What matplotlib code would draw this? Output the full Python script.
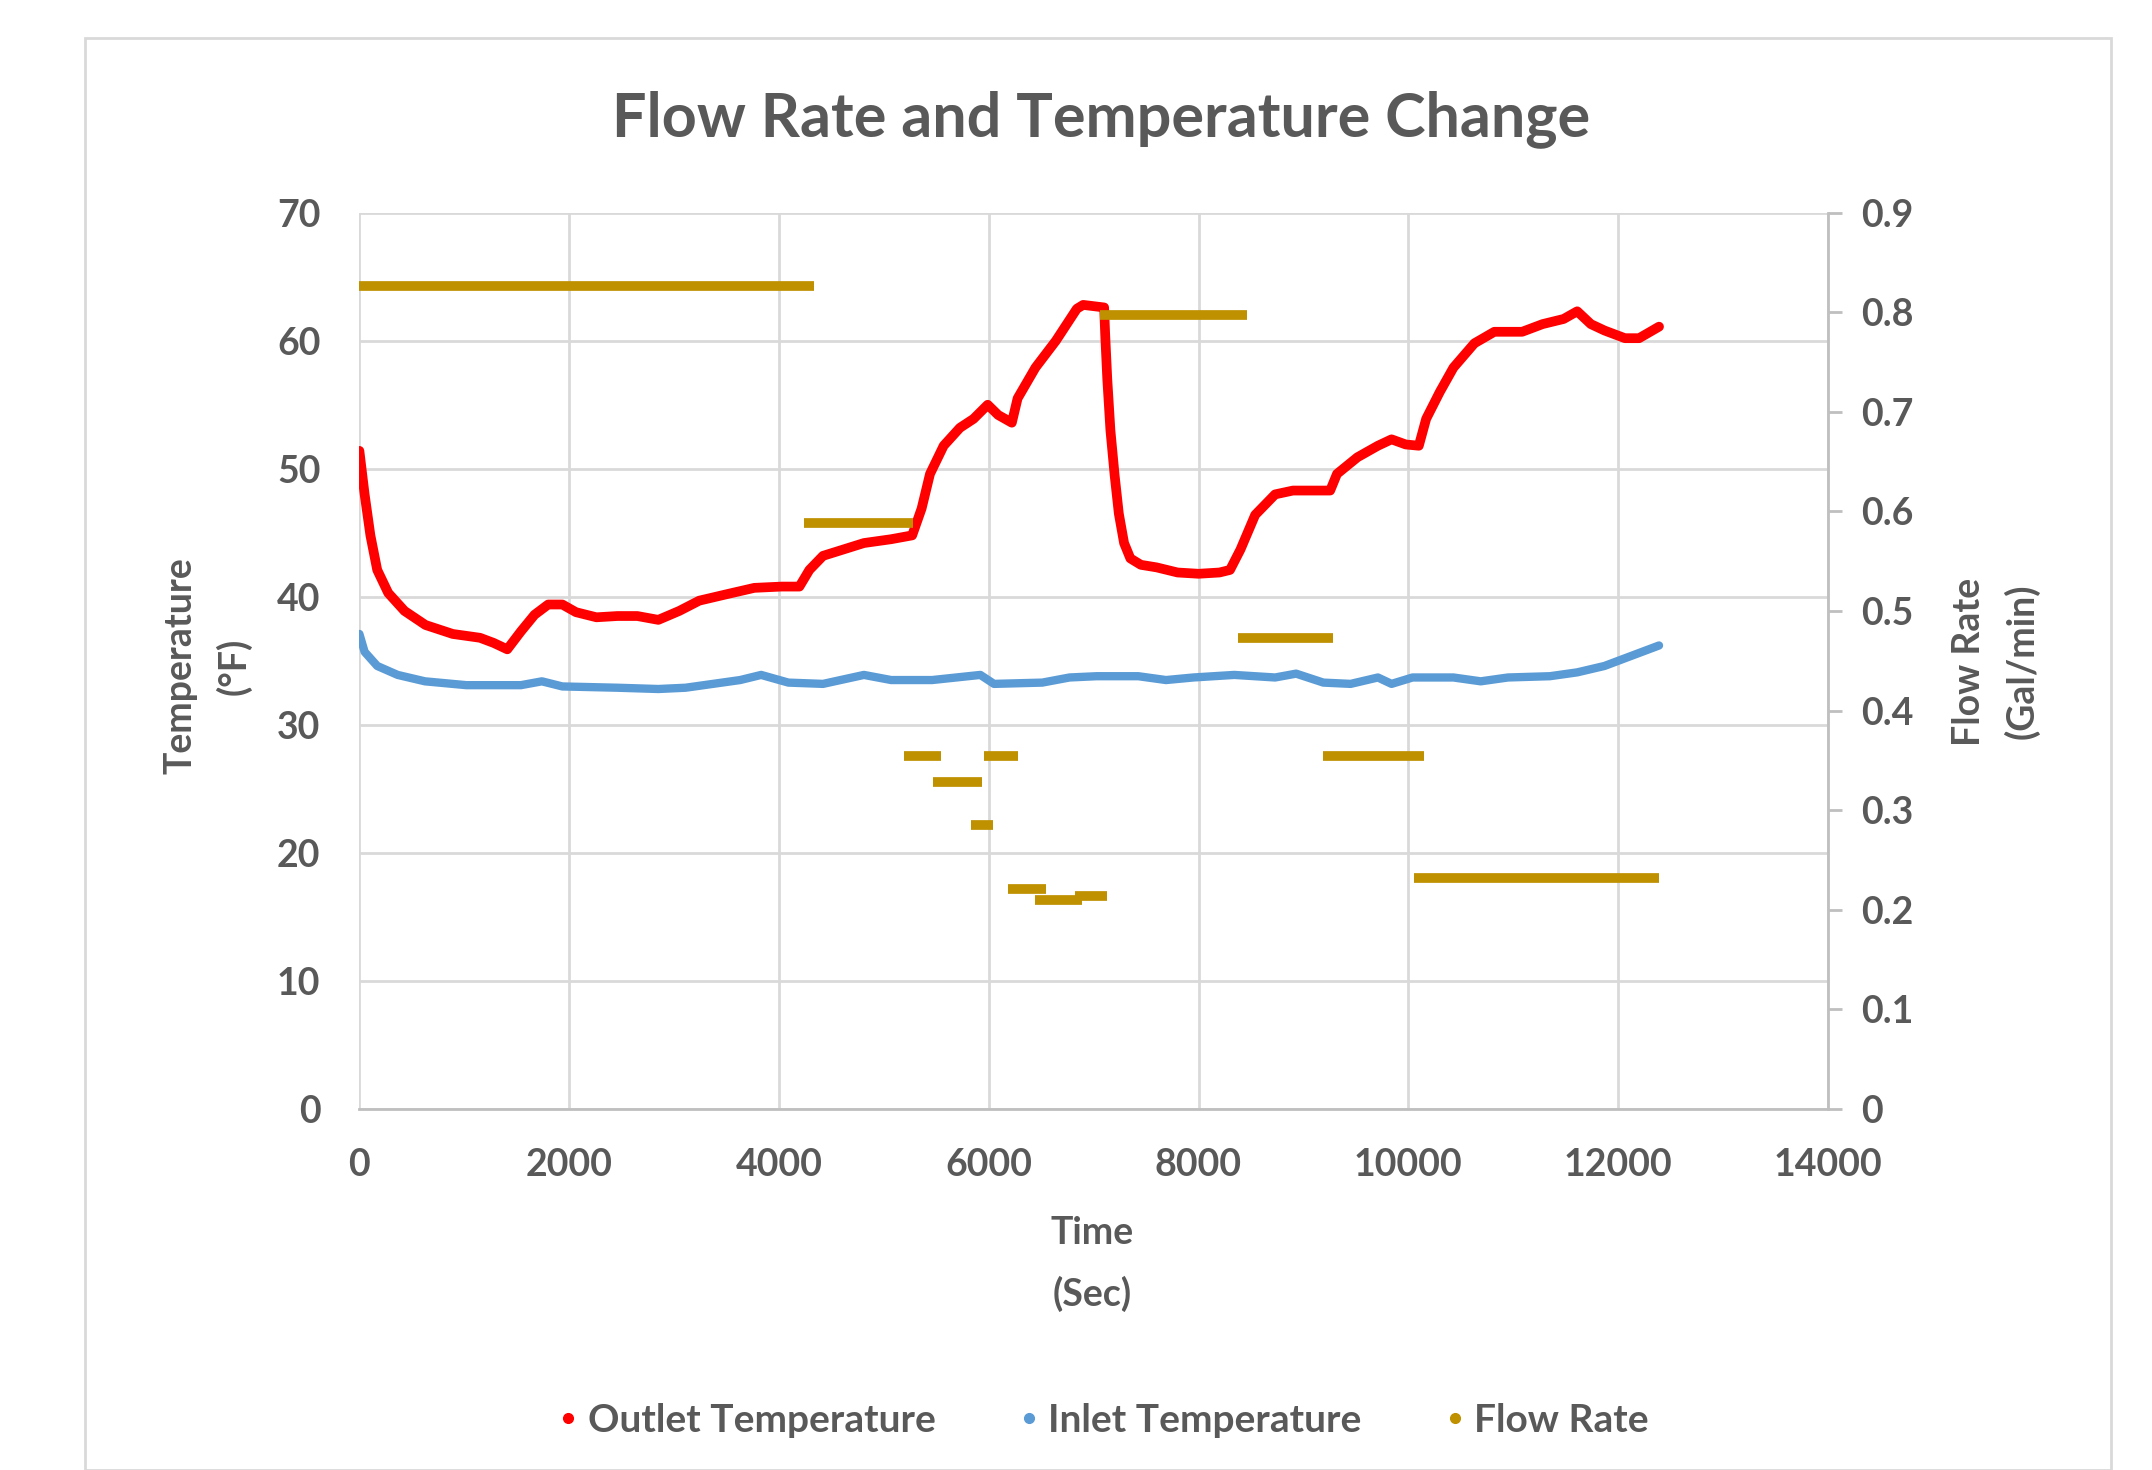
import matplotlib
matplotlib.use("Agg")
import matplotlib.pyplot as plt
from matplotlib.lines import Line2D
from matplotlib.patches import Rectangle

# outlet temperature (deg F) vs time (s)
out_time = [0, 50, 105, 170, 275, 430, 630, 890, 1150, 1280, 1410, 1540, 1670, 1800, 1935,
            2065, 2260, 2460, 2650, 2850, 3050, 3240, 3500, 3765, 4025, 4195, 4290, 4420,
            4615, 4810, 5070, 5270, 5360, 5440, 5570, 5725, 5855, 5990, 6090, 6220, 6275,
            6445, 6640, 6840, 6900, 7100, 7110, 7130, 7160, 7200, 7240, 7290, 7350, 7450,
            7600, 7800, 8000, 8200, 8300, 8400, 8540, 8730, 8900, 9100, 9255, 9320, 9515,
            9710, 9840, 9975, 10100, 10170, 10300, 10430, 10630, 10820, 11085, 11280, 11480,
            11610, 11740, 11870, 12065, 12200, 12390]
out_temp = [51.4, 48.0, 44.8, 42.1, 40.3, 38.9, 37.8, 37.1, 36.8, 36.4, 35.9, 37.3, 38.6, 39.4,
            39.4, 38.8, 38.4, 38.5, 38.5, 38.2, 38.9, 39.7, 40.2, 40.7, 40.8, 40.8, 42.1, 43.2,
            43.7, 44.2, 44.5, 44.8, 46.9, 49.6, 51.8, 53.2, 53.9, 55.0, 54.2, 53.6, 55.5,
            57.9, 60.0, 62.5, 62.8, 62.6, 60.5, 57.0, 53.0, 49.5, 46.5, 44.2, 43.0, 42.5,
            42.3, 41.9, 41.8, 41.9, 42.1, 43.7, 46.4, 48.0, 48.3, 48.3, 48.3, 49.6, 50.9,
            51.8, 52.3, 51.9, 51.8, 53.9, 56.0, 57.9, 59.8, 60.7, 60.7, 61.3, 61.7,
            62.3, 61.3, 60.8, 60.2, 60.2, 61.1]

# inlet temperature (deg F) vs time (s)
in_time = [0, 50, 170, 365, 625, 1020, 1540, 1740, 1935, 2460, 2850, 3110, 3370, 3630, 3830,
           4090, 4420, 4810, 5070, 5460, 5920, 6050, 6510, 6770, 7030, 7425, 7690, 7950, 8340,
           8730, 8930, 9190, 9450, 9710, 9840, 10040, 10430, 10690, 10950, 11350, 11610, 11870,
           12130, 12390]
in_temp = [37.1, 35.7, 34.6, 33.9, 33.4, 33.1, 33.1, 33.4, 33.0, 32.9, 32.8, 32.9, 33.2, 33.5,
           33.9, 33.3, 33.2, 33.9, 33.5, 33.5, 33.9, 33.2, 33.3, 33.7, 33.8, 33.8, 33.5, 33.7,
           33.9, 33.7, 34.0, 33.3, 33.2, 33.7, 33.2, 33.7, 33.7, 33.4, 33.7, 33.8, 34.1, 34.6,
           35.4, 36.2]

# flow rate steps (gal/min): start time, end time, value
flow_start = [0, 4235, 5190, 5465, 5830, 5950, 6185, 6445, 6825, 7060, 8380, 9190, 10050]
flow_end = [4330, 5280, 5540, 5935, 6040, 6275, 6550, 6890, 7125, 8460, 9280, 10145, 12390]
flow_rate = [0.826, 0.588, 0.354, 0.328, 0.285, 0.354, 0.221, 0.210, 0.214, 0.797, 0.473,
             0.354, 0.232]

RED = "#FF0000"
BLUE = "#5B9BD5"
GOLD = "#BF9000"
TXT = "#595959"
GRID = "#D9D9D9"

plt.rcParams['font.family'] = ['Lato', 'DejaVu Sans']

fig = plt.figure(figsize=(21.52, 14.70), dpi=100)
fig.patches.append(Rectangle((85 / 2152, 0), (2111 - 85) / 2152, 1 - 38 / 1470,
                             transform=fig.transFigure, fill=False, edgecolor=GRID,
                             linewidth=2))

ax = fig.add_axes([0.167, 0.2456, 0.6824, 0.6097])
ax2 = ax.twinx()

ax.plot(out_time, out_temp, color=RED, linewidth=7, solid_capstyle='round',
        solid_joinstyle='round', zorder=3)
ax.plot(in_time, in_temp, color=BLUE, linewidth=6, solid_capstyle='round',
        solid_joinstyle='round', zorder=3)
ax2.hlines(flow_rate, flow_start, flow_end, color=GOLD, linewidth=7, zorder=3)

ax.set_xlim(0, 14000)
ax.set_ylim(0, 70)
ax2.set_ylim(0, 0.9)
ax.set_xticks(range(0, 14001, 2000))
ax.set_yticks(range(0, 71, 10))
ax2.set_yticks([i / 10 for i in range(10)])
ax2.set_yticklabels(['0'] + ['%.1f' % (i / 10) for i in range(1, 10)])

ax.grid(True, color=GRID, linewidth=2)
ax.set_axisbelow(True)
for s in ['top', 'left']:
    ax.spines[s].set_visible(False)
    ax2.spines[s].set_visible(False)
ax.spines['right'].set_visible(False)
ax.spines['bottom'].set_color('#BFBFBF')
ax.spines['bottom'].set_linewidth(2)
ax2.spines['bottom'].set_visible(False)
ax2.spines['right'].set_color('#BFBFBF')
ax2.spines['right'].set_linewidth(2)

ax.tick_params(axis='y', length=0, pad=28, labelsize=27, labelcolor=TXT)
ax.tick_params(axis='x', length=0, pad=28, labelsize=27, labelcolor=TXT)
ax2.tick_params(axis='y', length=10, width=2, color='#BFBFBF', pad=14, labelsize=27,
                labelcolor=TXT)
for lab in ax.get_xticklabels() + ax.get_yticklabels() + ax2.get_yticklabels():
    lab.set_fontweight('bold')

fig.text(0.5115, 0.919, "Flow Rate and Temperature Change", ha='center', va='center',
         fontsize=44, fontweight='bold', color=TXT)
fig.text(0.5075, 0.140, "Time\n(Sec)", ha='center', va='center', fontsize=27,
         fontweight='bold', color=TXT, linespacing=1.85)
fig.text(0.0965, 0.547, "Temperature\n(\u00b0F)", ha='center', va='center', rotation=90,
         fontsize=27, fontweight='bold', color=TXT, linespacing=1.6)
fig.text(0.9275, 0.55, "Flow Rate\n(Gal/min)", ha='center', va='center', rotation=90,
         fontsize=27, fontweight='bold', color=TXT, linespacing=1.6)

handles = [Line2D([], [], linestyle='none', marker='o', markersize=7, color=c)
           for c in (RED, BLUE, GOLD)]
fig.legend(handles, ["Outlet Temperature", "Inlet Temperature", "Flow Rate"],
           loc='center', bbox_to_anchor=(0.5115, 0.034), ncol=3, frameon=False,
           prop={'size': 28, 'weight': 'bold'}, labelcolor=TXT, handletextpad=0.1,
           columnspacing=2.0, handlelength=0.8)

fig.savefig("out.png", dpi=100)
